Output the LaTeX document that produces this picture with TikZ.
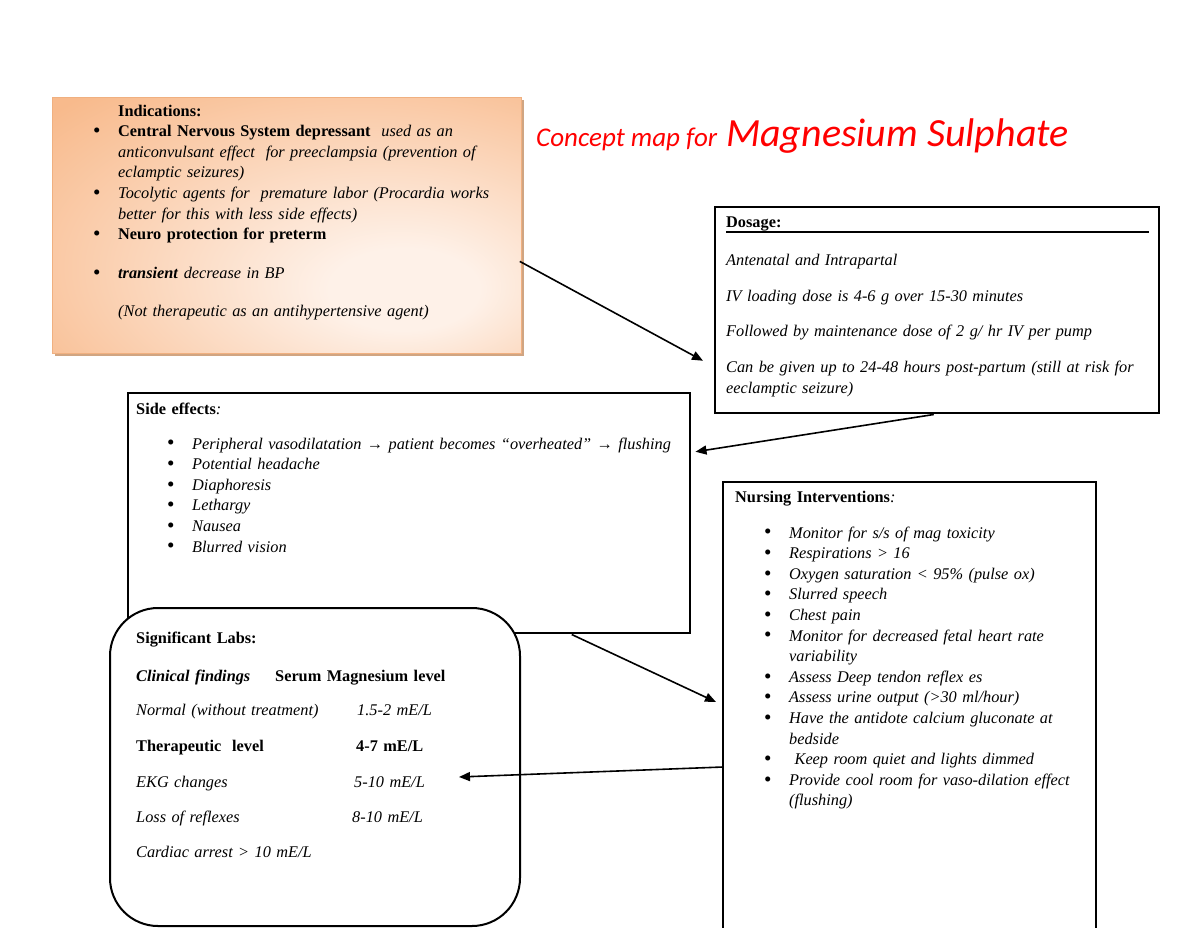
\documentclass[tikz,border=0pt]{standalone}
\usepackage{fontspec}
\setmainfont{Liberation Serif}
\newfontfamily\titlefont{Carlito}
\usetikzlibrary{arrows.meta,calc,shadows}

\definecolor{indorange}{RGB}{248,186,140}
\definecolor{indlight}{RGB}{254,241,232}
\definecolor{indedge}{RGB}{240,176,128}
\definecolor{indshadow}{RGB}{208,165,130}

% light spot a little right of and below the middle
\pgfdeclareradialshading{indshade}{\pgfpoint{14bp}{-14bp}}{%
  color(0bp)=(indlight); color(8bp)=(indlight); color(42bp)=(indorange); color(75bp)=(indorange)}

\newcommand{\bodyfont}{\fontsize{16.3}{20.6}\selectfont}
\newcommand{\bul}{\leavevmode\llap{\makebox[25pt][l]{\raisebox{-0.8pt}{\scalebox{1.3}{\textbullet}}}}}

\begin{document}
\begin{tikzpicture}[x=1pt, y=-1pt, >={Triangle[length=11pt,width=9pt]},
    box/.style={draw, line width=1.5pt, fill=white, anchor=north west, inner sep=0pt},
    txt/.style={anchor=base west, inner sep=0pt, align=left, font=\bodyfont, text width=#1},
    link/.style={->, line width=1.6pt}]
  \useasboundingbox (0,0) rectangle (1200,927);

  % boxes
  \node[box, draw=indedge, line width=0.8pt, shading=indshade,
        drop shadow={shadow xshift=2.5pt, shadow yshift=-3pt, fill=indshadow, opacity=1},
        minimum width=469pt, minimum height=256pt] (ind) at (52,97) {};
  \node[box, minimum width=444pt, minimum height=206pt] (dos) at (714,206) {};
  \node[box, minimum width=562pt, minimum height=240pt] (se) at (127,392) {};
  \node[box, minimum width=373pt, minimum height=452pt] (nurse) at (722,481) {};
  \node[box, line width=2pt, rounded corners=48pt,
        minimum width=410pt, minimum height=318pt] (labs) at (109,607) {};

  % title
  \node[anchor=base west, inner sep=0pt, text=red, font=\titlefont\itshape] (title) at (536,146)
    {{\fontsize{27}{30}\selectfont Concept map for}\hspace{9pt}{\fontsize{40}{44}\selectfont Magnesium Sulphate}};

  % indications
  \node[txt=400pt] (ind-text) at (118,116) {%
    \textbf{Indications:}\\
    \bul\textbf{Central Nervous System depressant} \ \textit{used as an}\\
    \textit{anticonvulsant effect \ for preeclampsia (prevention of}\\
    \textit{eclamptic seizures)}\\
    \bul\textit{Tocolytic agents for \ premature labor (Procardia works}\\
    \textit{better for this with less side effects)}\\
    \bul\textbf{Neuro protection for preterm}\\[18.5pt]
    \bul\textbf{\textit{transient}} \textit{decrease in BP}\\[17.5pt]
    \textit{(Not therapeutic as an antihypertensive agent)}};

  % dosage
  \node[txt=430pt] (dos-text) at (726,227) {%
    \textbf{Dosage:}\\[17.5pt]
    \textit{Antenatal and Intrapartal}\\[15.5pt]
    \textit{IV loading dose is 4-6 g over 15-30 minutes}\\[14.5pt]
    \textit{Followed by maintenance dose of 2 g/ hr IV per pump}\\[15.5pt]
    \textit{Can be given up to 24-48 hours post-partum (still at risk for}\\
    \textit{eeclamptic seizure)}};
  \draw[line width=1.3pt] ($(dos.north west)+(12,26)$) -- ($(dos.north east)+(-11,26)$);

  % side effects
  \node[txt=300pt] (se-head) at (136,414) {\textbf{Side effects}\textit{:}};
  \node[txt=490pt] (se-list) at (192,449) {%
    \bul\textit{Peripheral vasodilatation → patient becomes “overheated” → flushing}\\
    \bul\textit{Potential headache}\\
    \bul\textit{Diaphoresis}\\
    \bul\textit{Lethargy}\\
    \bul\textit{Nausea}\\
    \bul\textit{Blurred vision}};

  % nursing interventions
  \node[txt=340pt] (nurse-head) at (735,502) {\textbf{Nursing Interventions}\textit{:}};
  \node[txt=300pt] (nurse-list) at (789,538) {%
    \bul\textit{Monitor for s/s of mag toxicity}\\
    \bul\textit{Respirations > 16}\\
    \bul\textit{Oxygen saturation < 95\% (pulse ox)}\\
    \bul\textit{Slurred speech}\\
    \bul\textit{Chest pain}\\
    \bul\textit{Monitor for decreased fetal heart rate}\\
    \textit{variability}\\
    \bul\textit{Assess Deep tendon reflex es}\\
    \bul\textit{Assess urine output (>30 ml/hour)}\\
    \bul\textit{Have the antidote calcium gluconate at}\\
    \textit{bedside}\\
    \bul\textit{\ Keep room quiet and lights dimmed}\\
    \bul\textit{Provide cool room for vaso-dilation effect}\\
    \textit{(flushing)}};

  % labs
  \node[txt=370pt] (labs-text) at (136,643) {%
    \textbf{Significant Labs:}\\[17.5pt]
    \makebox[139pt][l]{\textbf{\textit{Clinical findings}}}\textbf{Serum Magnesium level}\\[13.5pt]
    \makebox[221pt][l]{\textit{Normal (without treatment)}}\textit{1.5-2 mE/L}\\[15.5pt]
    \makebox[220pt][l]{\textbf{Therapeutic \ level}}\textbf{4-7 mE/L}\\[15.5pt]
    \makebox[218pt][l]{\textit{EKG changes}}\textit{5-10 mE/L}\\[14.5pt]
    \makebox[216pt][l]{\textit{Loss of reflexes}}\textit{8-10 mE/L}\\[14.5pt]
    \textit{Cardiac arrest > 10 mE/L}};

  % connectors
  \draw[link] ($(ind.east)+(-2,36)$) -- ($(dos.west)+(-11,51)$);
  \draw[link] ($(dos.south)+(-3,1)$) -- ($(se.east)+(5,-61)$);
  \draw[link] ($(se.south)+(163,1)$) -- ($(nurse.north west)+(-6,221)$);
  \draw[link] ($(nurse.north west)+(1,286)$) -- ($(labs.east)+(-62,10)$);
\end{tikzpicture}
\end{document}
